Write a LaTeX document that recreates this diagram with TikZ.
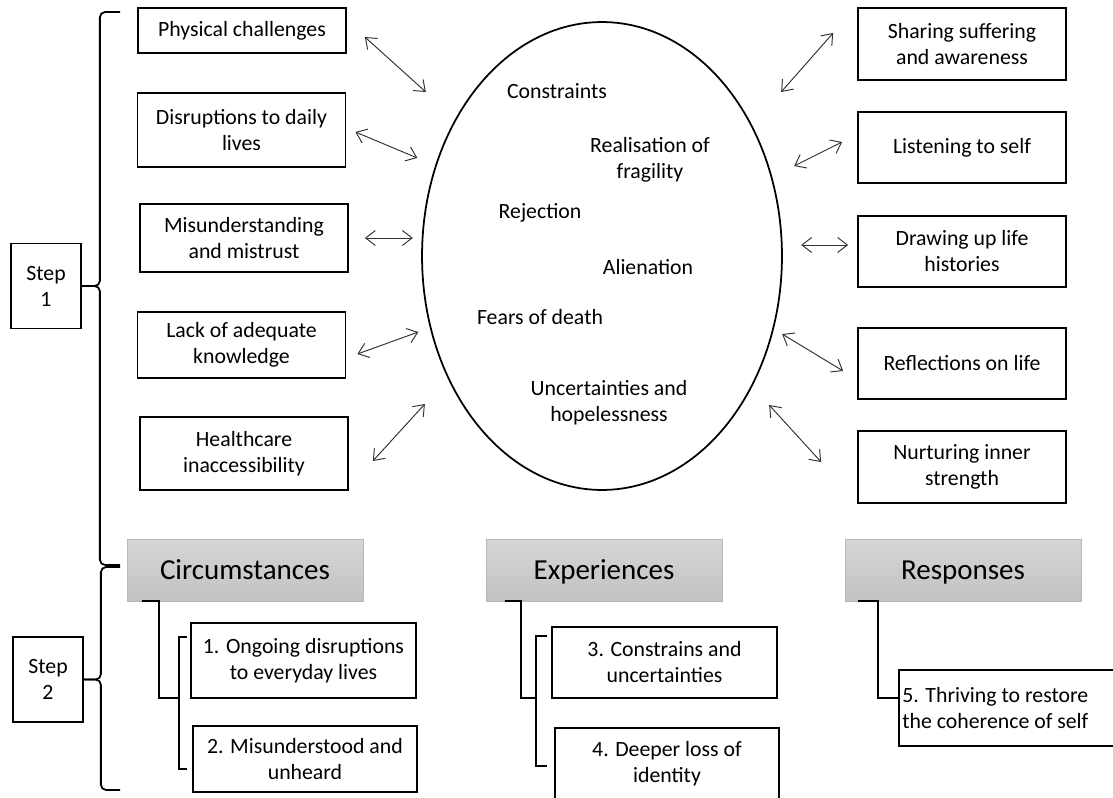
\documentclass[tikz,border=0pt]{standalone}
\usepackage{fontspec}
\setmainfont{Carlito}
\usetikzlibrary{shapes.geometric,arrows.meta}

\tikzset{
  box/.style={draw, line width=1pt, align=center, minimum width=4.16cm, inner sep=2pt},
  stepbox/.style={draw, line width=1pt, align=center, minimum width=1.4cm, minimum height=1.7cm},
  head/.style={draw=black!28, top color=black!16, bottom color=black!24, minimum width=4.72cm, minimum height=1.24cm, text height=2.4ex, text depth=0.2ex, font=\fontsize{16.5}{19}\selectfont},
  link/.style={<->, line width=0.55pt, draw=black!80},
  elbow/.style={line width=1pt},
}

\begin{document}
\begin{tikzpicture}[x=0.02cm, y=-0.02cm, >={Straight Barb[length=5.5pt,width=8.5pt]}, font=\fontsize{12.4}{14.8}\selectfont]
\useasboundingbox (0,0) rectangle (1113,798);

% circumstances (step 1)
\node[box, minimum height=0.9cm] (phys) at (242,30.5) {Physical challenges};
\node[box, minimum height=1.48cm] (disr) at (241.5,130) {Disruptions to daily\\lives};
\node[box, minimum height=1.36cm] (mis) at (244,238) {Misunderstanding\\and mistrust};
\node[box, minimum height=1.32cm] (lack) at (241.5,345) {Lack of adequate\\knowledge};
\node[box, minimum height=1.46cm] (health) at (244,453.5) {Healthcare\\inaccessibility};

% responses (step 1)
\node[box, minimum height=1.43cm] (share) at (962,44) {Sharing suffering\\and awareness};
\node[box, minimum height=1.43cm] (listen) at (962,147.5) {Listening to self};
\node[box, minimum height=1.43cm] (drawup) at (962,251.5) {Drawing up life\\histories};
\node[box, minimum height=1.43cm] (reflect) at (962,363.5) {Reflections on life};
\node[box, minimum height=1.43cm] (nurture) at (962,467) {Nurturing inner\\strength};

% experiences
\node[draw, ellipse, line width=1pt, minimum width=7.2cm, minimum height=9.36cm, inner sep=0pt] (ell) at (602,256) {};
\node (con) at (557,91) {Constraints};
\node[align=center] (real) at (650,160) {Realisation of\\fragility};
\node (rej) at (540,213) {Rejection};
\node (ali) at (648,267) {Alienation};
\node (fear) at (540,317) {Fears of death};
\node[align=center] (unc) at (609,403) {Uncertainties and\\hopelessness};

\draw[link] ([shift={(18,6.5)}]phys.east) -- +(61,55);
\draw[link] ([shift={(9,2)}]disr.east) -- +(62,26);
\draw[link] ([shift={(16,0)}]mis.east) -- +(48,0);
\draw[link] ([shift={(11,9)}]lack.east) -- +(61,-22);
\draw[link] ([shift={(24,7.5)}]health.east) -- +(52,-57);
\draw[link] ([shift={(-24,-11)}]share.west) -- +(-52,59);
\draw[link] ([shift={(-15,-5.5)}]listen.west) -- +(-48,24);
\draw[link] ([shift={(-9,-6.5)}]drawup.west) -- +(-47,0);
\draw[link] ([shift={(-14,7.5)}]reflect.west) -- +(-61,-37);
\draw[link] ([shift={(-36,-5)}]nurture.west) -- +(-52,-57);

% steps
\node[stepbox] (s1) at (46,286) {Step\\1};
\node[stepbox] (s2) at (48,679.5) {Step\\2};
\draw[elbow, rounded corners=3pt] (120,12) -| ([shift={(18,0)}]s1.east) -- (s1.east);
\draw[elbow, rounded corners=3pt] (120,565) -| ([shift={(18,0)}]s1.east) -- (s1.east);
\draw[elbow, rounded corners=3pt] (120,567) -| ([shift={(17,0)}]s2.east) -- (s2.east);
\draw[elbow, rounded corners=3pt] (120,790) -| ([shift={(17,0)}]s2.east) -- (s2.east);

% themes (step 2)
\node[head] (circ) at (245,570) {Circumstances};
\node[head] (exper) at (604,570) {Experiences};
\node[head] (resp) at (963,570) {Responses};

\node[box, minimum width=4.5cm, minimum height=1.5cm] (b1) at (303.5,660.5) {1. Ongoing disruptions\\to everyday lives};
\node[box, minimum width=4.48cm, minimum height=1.32cm] (b2) at (305,759) {2. Misunderstood and\\unheard};
\node[box, minimum width=4.5cm, minimum height=1.42cm] (b3) at (664.5,662.5) {3. Constrains and\\uncertainties};
\node[box, minimum width=4.48cm, minimum height=1.44cm] (b4) at (667,764) {4. Deeper loss of\\identity};
\node[box, anchor=west, text width=4.3cm, align=flush left, minimum height=1.52cm] (b5) at (898,708) {5. Thriving to restore\\the coherence of self};

\coordinate (j1) at (179,698);
\coordinate (j2) at (536,698);
\draw[elbow] ([shift={(15,0)}]circ.south west) -| (159,698) -- (j1);
\draw[elbow] ([shift={(-3,15)}]b1.north west) -| (j1) |- ([shift={(-5,-24)}]b2.south west);
\draw[elbow] ([shift={(19,0)}]exper.south west) -| (521,698) -- (j2);
\draw[elbow] ([shift={(-4,10)}]b3.north west) -| (j2) |- ([shift={(-7,39)}]b4.north west);
\draw[elbow] ([shift={(13,0)}]resp.south west) -| (878,698) -- ([shift={(0,-10)}]b5.west);
\end{tikzpicture}
\end{document}
